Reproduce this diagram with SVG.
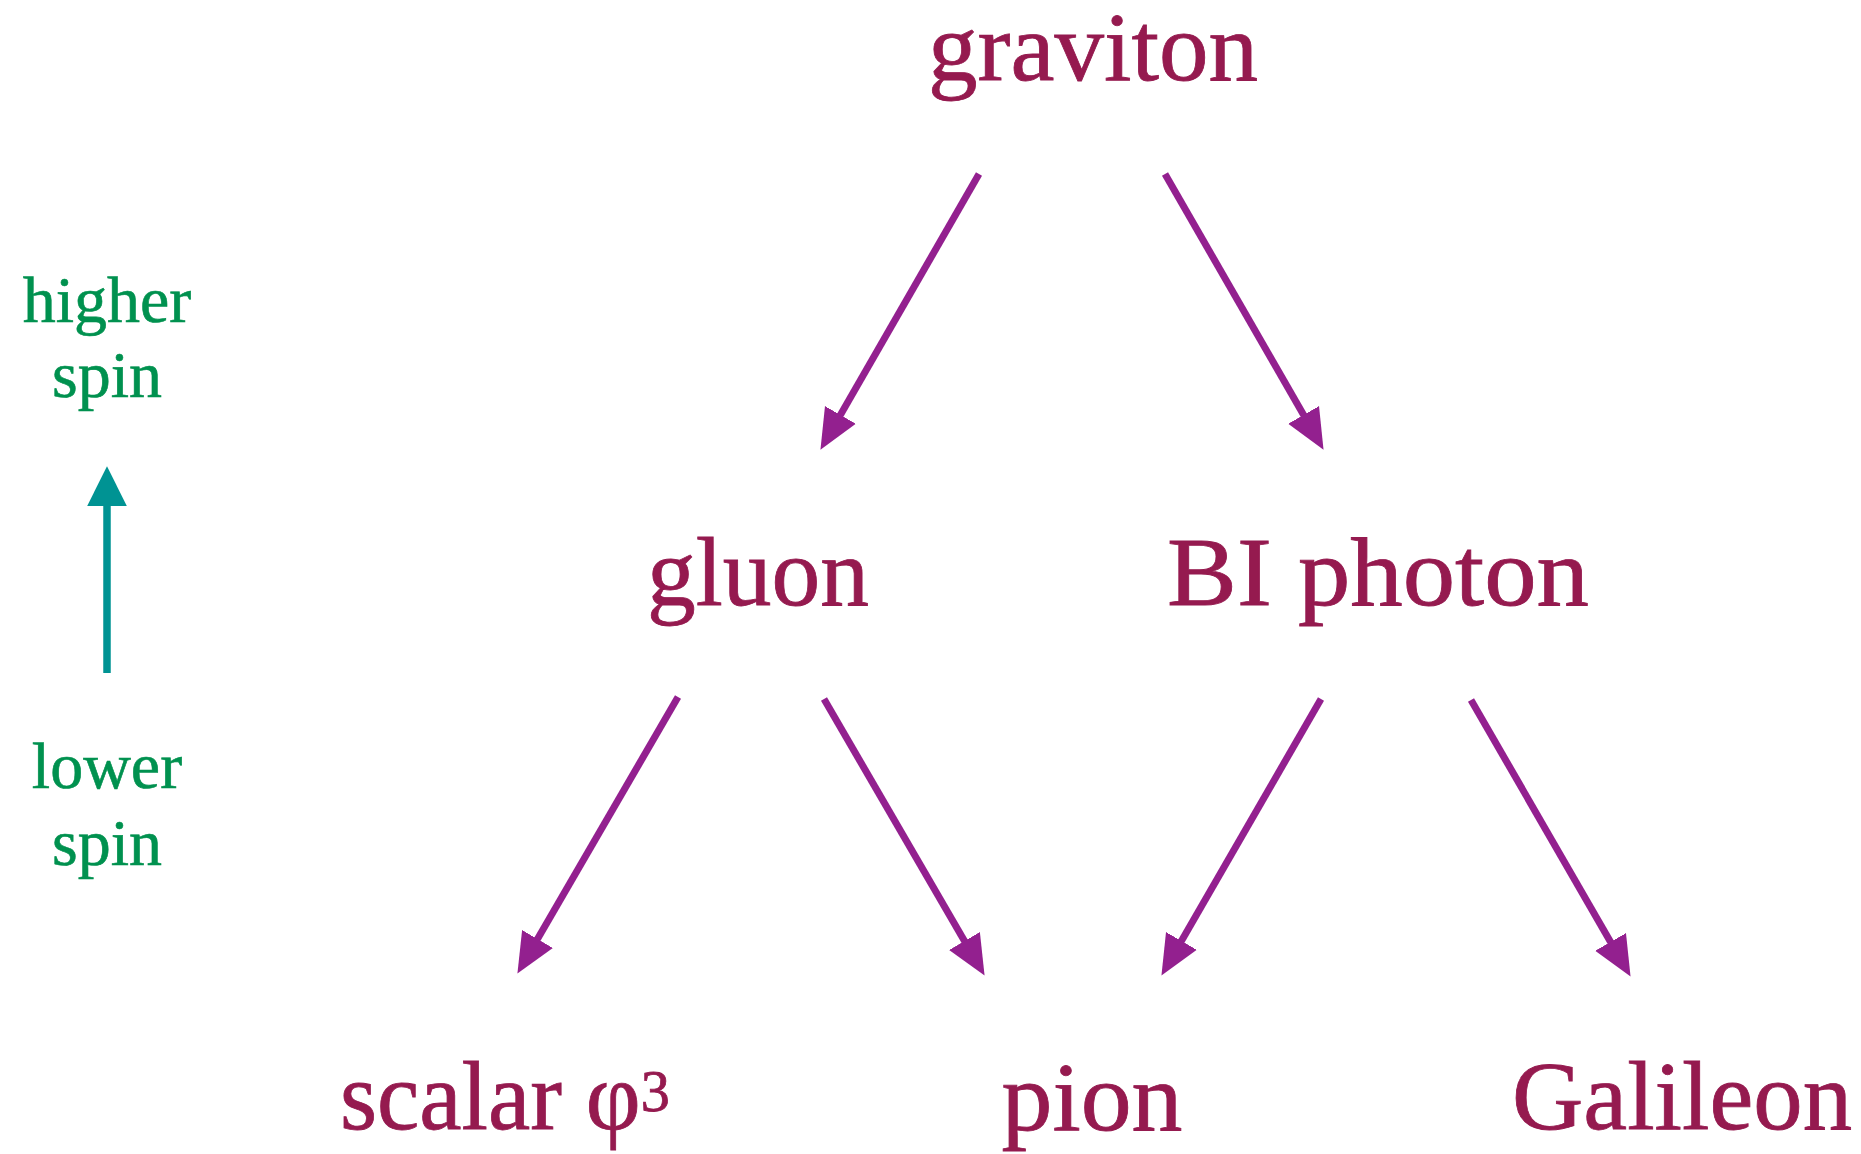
<svg xmlns="http://www.w3.org/2000/svg" width="1861" height="1154" viewBox="0 0 1861 1154">
<style>
  .lbl { font-family: "Liberation Serif", "DejaVu Serif", serif; fill: #951a4f; stroke: #951a4f; stroke-width: 0.8; font-size: 98px; text-anchor: middle; }
  .side { font-family: "Liberation Serif", "DejaVu Serif", serif; fill: #00914f; stroke: #00914f; stroke-width: 0.6; font-size: 66px; text-anchor: middle; }
  .conn { stroke: #93208f; stroke-width: 7; fill: none; marker-end: url(#ah); }
</style>
<defs>
  <marker id="ah" markerUnits="userSpaceOnUse" markerWidth="40" markerHeight="40" viewBox="0 0 36 32" refX="26" refY="16" orient="auto">
    <path d="M0,0 L36,16 L0,32 z" fill="#93208f"/>
  </marker>
  <marker id="ahg" markerUnits="userSpaceOnUse" markerWidth="40" markerHeight="40" viewBox="0 0 34 34" refX="2" refY="17" orient="auto">
    <path d="M0,0 L34,17 L0,34 z" fill="#009393"/>
  </marker>
</defs>
<rect width="1861" height="1154" fill="#ffffff"/>
<g id="graviton"><text class="lbl" x="1093" y="80" textLength="330" lengthAdjust="spacingAndGlyphs">graviton</text></g>
<g id="gluon"><text class="lbl" x="758" y="605" textLength="222" lengthAdjust="spacingAndGlyphs">gluon</text></g>
<g id="bi-photon"><text class="lbl" x="1378" y="605" textLength="422" lengthAdjust="spacingAndGlyphs">BI photon</text></g>
<g id="scalar"><text class="lbl" x="505" y="1129" textLength="330" lengthAdjust="spacingAndGlyphs">scalar φ<tspan font-size="60" dy="-18">3</tspan></text></g>
<g id="pion"><text class="lbl" x="1092" y="1130" textLength="181" lengthAdjust="spacingAndGlyphs">pion</text></g>
<g id="galileon"><text class="lbl" x="1682" y="1129" textLength="340" lengthAdjust="spacingAndGlyphs">Galileon</text></g>
<g id="spin-axis">
  <text class="side" x="107" y="322">higher</text>
  <text class="side" x="107" y="397">spin</text>
  <text class="side" x="107" y="788">lower</text>
  <text class="side" x="107" y="865">spin</text>
  <line x1="107" y1="673" x2="107" y2="504" stroke="#009393" stroke-width="7.5" marker-end="url(#ahg)"/>
</g>
<g id="connectors">
  <line class="conn" x1="979" y1="174" x2="826" y2="440"/>
  <line class="conn" x1="1165" y1="174" x2="1318" y2="440"/>
  <line class="conn" x1="678" y1="697" x2="523" y2="964"/>
  <line class="conn" x1="824" y1="699" x2="979" y2="966"/>
  <line class="conn" x1="1321" y1="699" x2="1167" y2="966"/>
  <line class="conn" x1="1471" y1="700" x2="1625" y2="967"/>
</g>
</svg>
